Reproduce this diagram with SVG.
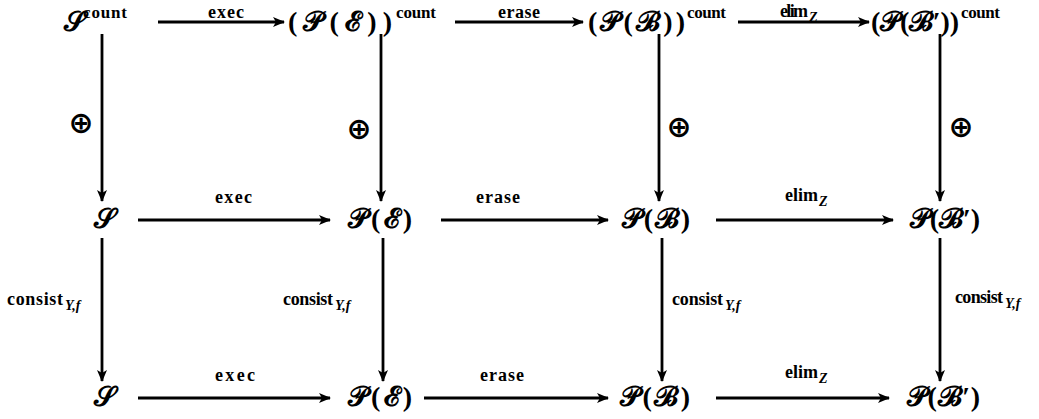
<svg xmlns="http://www.w3.org/2000/svg" width="1039" height="419" viewBox="0 0 1039 419">
<style>
.n{font-family:"Liberation Serif","DejaVu Serif",serif;font-size:28px;font-weight:bold;fill:#000}
.sup{font-family:"Liberation Serif",serif;font-size:17px;font-weight:bold;fill:#000}
.l{font-family:"Liberation Serif",serif;font-size:18px;font-weight:bold;fill:#000}
.sub{font-family:"Liberation Serif",serif;font-size:14px;font-weight:bold;font-style:italic;fill:#000}
.o{font-family:"DejaVu Sans",sans-serif;font-size:30px;font-weight:bold;fill:#000;text-anchor:middle}
.e line{stroke:#000;stroke-width:2.8}
</style>
<defs>
<marker id="ah" viewBox="0 0 12 10" refX="11" refY="5" markerWidth="12" markerHeight="10" orient="auto" markerUnits="userSpaceOnUse">
<path d="M0,0 L12,5 L0,10 L3,5 Z" fill="#000"/>
</marker>
</defs>
<rect width="1039" height="419" fill="#fff"/>
<g id="n11"><text class="n" x="64" y="31">𝒮</text><text class="sup" x="83" y="18" textLength="44" lengthAdjust="spacing">count</text></g>
<g id="n12"><text class="n" x="288" y="31" textLength="104" lengthAdjust="spacing">(𝒫(ℰ))</text><text class="sup" x="396" y="18" textLength="40" lengthAdjust="spacing">count</text></g>
<g id="n13"><text class="n" x="588" y="31" textLength="97" lengthAdjust="spacing">(𝒫(ℬ))</text><text class="sup" x="687" y="18" textLength="39" lengthAdjust="spacing">count</text></g>
<g id="n14"><text class="n" x="871" y="31" textLength="88" lengthAdjust="spacing">(𝒫(ℬ′))</text><text class="sup" x="961" y="18" textLength="39" lengthAdjust="spacing">count</text></g>
<g id="n21"><text class="n" x="94" y="228">𝒮</text></g>
<g id="n22"><text class="n" x="348" y="228" textLength="64" lengthAdjust="spacing">𝒫(ℰ)</text></g>
<g id="n23"><text class="n" x="622" y="228" textLength="68" lengthAdjust="spacing">𝒫(ℬ)</text></g>
<g id="n24"><text class="n" x="910" y="228" textLength="70" lengthAdjust="spacing">𝒫(ℬ′)</text></g>
<g id="n31"><text class="n" x="94" y="406">𝒮</text></g>
<g id="n32"><text class="n" x="348" y="406" textLength="64" lengthAdjust="spacing">𝒫(ℰ)</text></g>
<g id="n33"><text class="n" x="620" y="406" textLength="70" lengthAdjust="spacing">𝒫(ℬ)</text></g>
<g id="n34"><text class="n" x="907" y="406" textLength="73" lengthAdjust="spacing">𝒫(ℬ′)</text></g>
<g id="edges" class="e">
<line x1="158" y1="22" x2="284" y2="22" marker-end="url(#ah)"/>
<line x1="455" y1="22" x2="583" y2="22" marker-end="url(#ah)"/>
<line x1="738" y1="22" x2="869" y2="22" marker-end="url(#ah)"/>
<line x1="102" y1="34" x2="102" y2="201" marker-end="url(#ah)"/>
<line x1="381" y1="34" x2="381" y2="201" marker-end="url(#ah)"/>
<line x1="659" y1="34" x2="659" y2="201" marker-end="url(#ah)"/>
<line x1="940" y1="34" x2="940" y2="201" marker-end="url(#ah)"/>
<line x1="138" y1="220" x2="330" y2="220" marker-end="url(#ah)"/>
<line x1="441" y1="220" x2="608" y2="220" marker-end="url(#ah)"/>
<line x1="716" y1="220" x2="893" y2="220" marker-end="url(#ah)"/>
<line x1="102" y1="238" x2="102" y2="381" marker-end="url(#ah)"/>
<line x1="383" y1="238" x2="383" y2="381" marker-end="url(#ah)"/>
<line x1="662" y1="238" x2="662" y2="381" marker-end="url(#ah)"/>
<line x1="940" y1="238" x2="940" y2="381" marker-end="url(#ah)"/>
<line x1="138" y1="398" x2="330" y2="398" marker-end="url(#ah)"/>
<line x1="424" y1="398" x2="608" y2="398" marker-end="url(#ah)"/>
<line x1="716" y1="398" x2="889" y2="398" marker-end="url(#ah)"/>
<g id="labels">
<text class="l" x="208" y="18" textLength="36" lengthAdjust="spacing">exec</text>
<text class="l" x="498" y="18" textLength="42" lengthAdjust="spacing">erase</text>
<text class="l" x="780" y="17" textLength="28" lengthAdjust="spacing">elim</text><text class="sub" x="809" y="22">Z</text>
<text class="o" x="81" y="133">⊕</text>
<text class="o" x="359" y="139">⊕</text>
<text class="o" x="679" y="137">⊕</text>
<text class="o" x="961" y="137">⊕</text>
<text class="l" x="215" y="203" textLength="37" lengthAdjust="spacing">exec</text>
<text class="l" x="476" y="203" textLength="44" lengthAdjust="spacing">erase</text>
<text class="l" x="785" y="201" textLength="33" lengthAdjust="spacing">elim</text><text class="sub" x="819" y="206">Z</text>
<text class="l" x="7" y="305" textLength="56" lengthAdjust="spacing">consist</text><text class="sub" x="65" y="310">Y,f</text>
<text class="l" x="283" y="305" textLength="50" lengthAdjust="spacing">consist</text><text class="sub" x="335" y="310">Y,f</text>
<text class="l" x="672" y="305" textLength="51" lengthAdjust="spacing">consist</text><text class="sub" x="725" y="310">Y,f</text>
<text class="l" x="955" y="303" textLength="48" lengthAdjust="spacing">consist</text><text class="sub" x="1005" y="308">Y,f</text>
<text class="l" x="215" y="381" textLength="40" lengthAdjust="spacing">exec</text>
<text class="l" x="480" y="381" textLength="44" lengthAdjust="spacing">erase</text>
<text class="l" x="785" y="378" textLength="33" lengthAdjust="spacing">elim</text><text class="sub" x="819" y="383">Z</text>
</g>
</g>
</svg>
